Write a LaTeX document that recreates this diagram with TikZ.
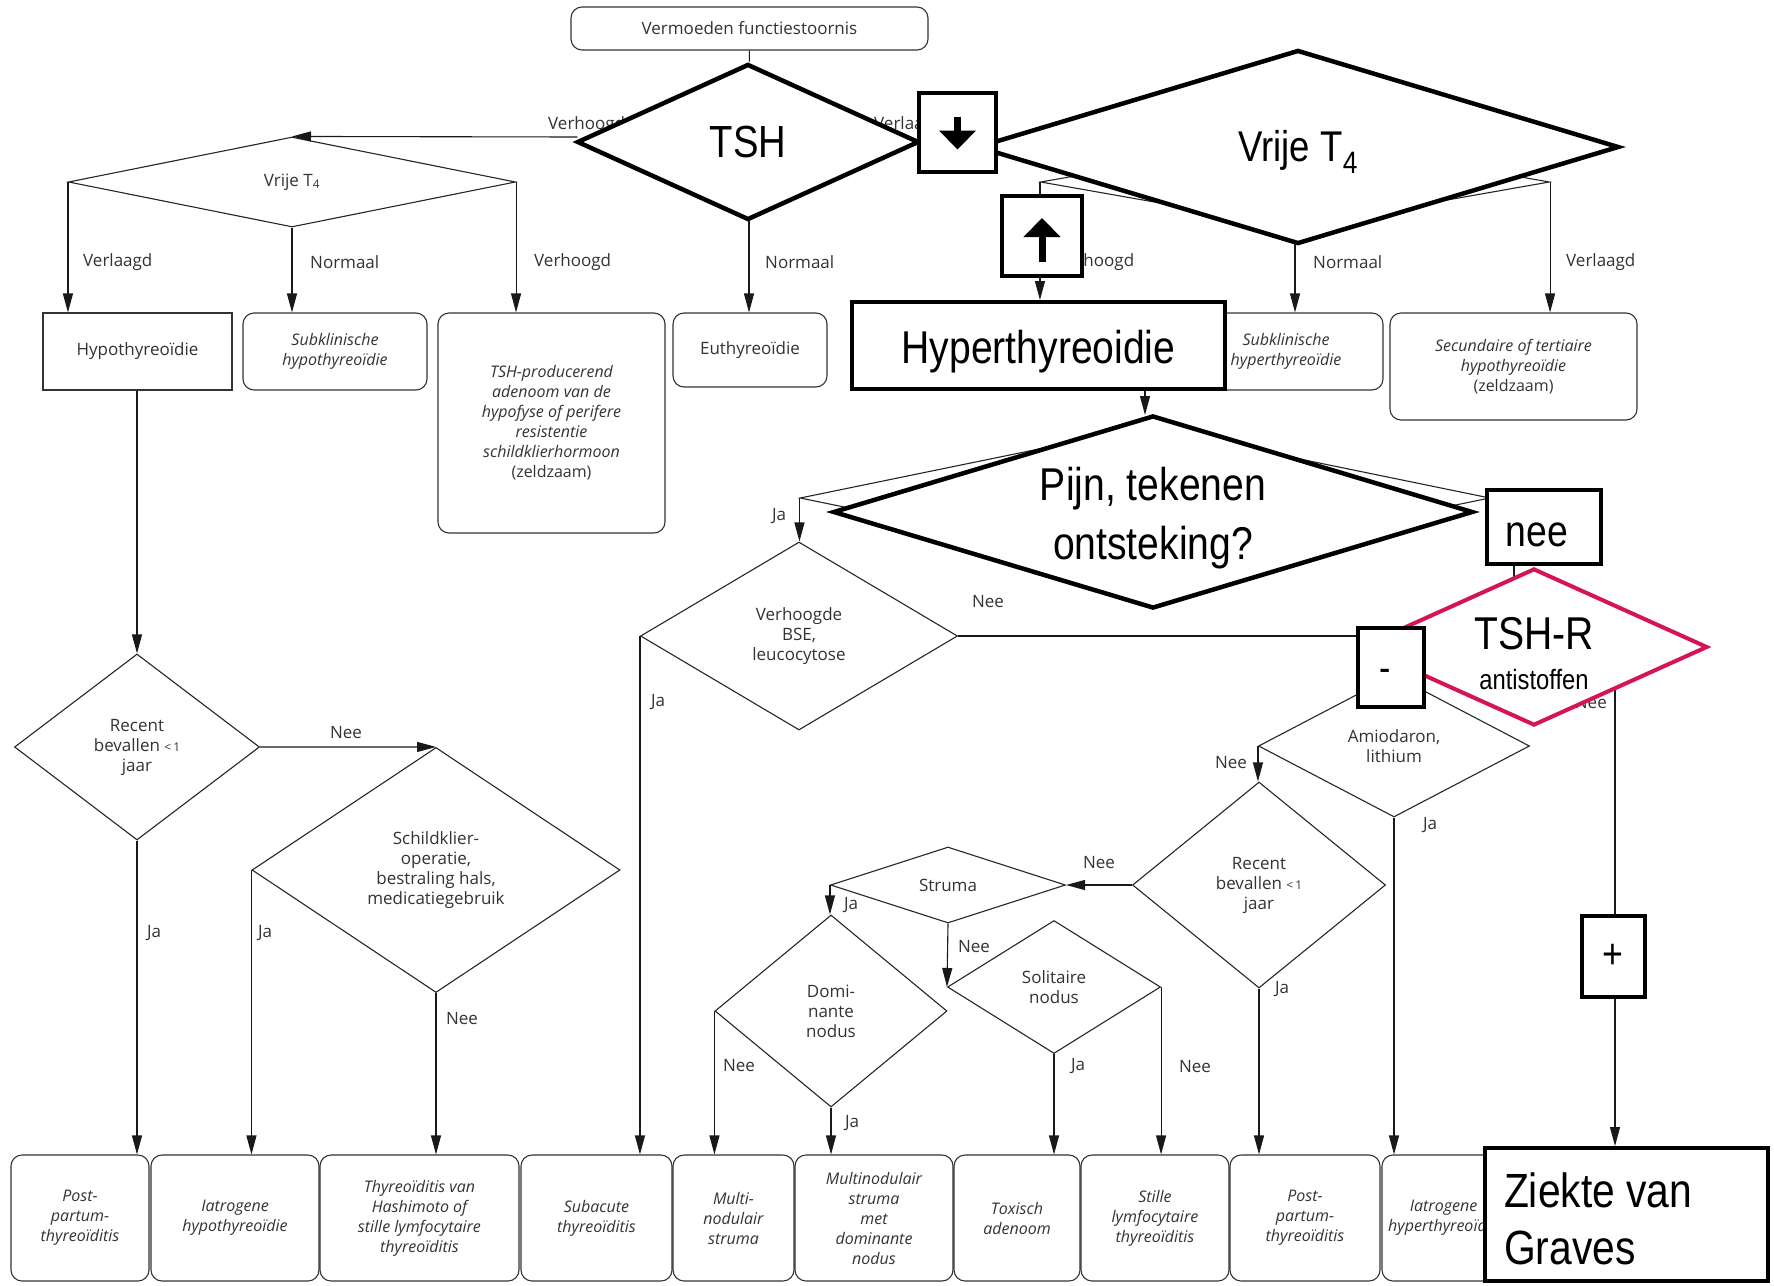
\documentclass[tikz,border=0pt]{standalone}
\usepackage{fontspec}
\usepackage{tikz}
\usetikzlibrary{calc,arrows.meta,shapes.geometric,positioning}
\newfontfamily\schemafont{Open Sans}
\newfontfamily\zwaarfont[FakeStretch=0.85]{Liberation Sans}
\definecolor{tshrood}{RGB}{214,20,82}
\newcommand\hoog[1]{\rule{0pt}{#1pt}}
\tikzset{
  lijn/.style={line width=1.1pt, draw=black!90},
  pijl/.style={lijn, -{Triangle[length=19pt,width=10pt]}},
  txt/.style={font=\schemafont\fontsize{17}{20}\selectfont, text=black!80, align=center, inner sep=0pt},
  vak/.style n args={2}{txt, draw=black!80, line width=1.1pt, rectangle, rounded corners=11pt, minimum width=#1, minimum height=#2},
  uitkomst/.style n args={2}{vak={#1}{#2}, font=\schemafont\itshape\fontsize{16}{20}\selectfont},
  keuze/.style n args={3}{txt, draw=black!85, line width=1.1pt, diamond, minimum width=#1, minimum height=#2, shape aspect=#3},
  zwaar/.style={draw=black, line width=4.5pt, fill=white, inner sep=0pt, align=center, font=\zwaarfont},
  zwaarvak/.style n args={2}{zwaar, rectangle, line width=4pt, minimum width=#1, minimum height=#2},
  zwaarkeuze/.style n args={3}{zwaar, diamond, minimum width=#1, minimum height=#2, shape aspect=#3},
  dikpijl/.style={line width=7pt, -{Triangle[length=19pt,width=36pt]}},
}
\begin{document}
\begin{tikzpicture}[x=1pt,y=-1pt]
\path[use as bounding box, fill=white] (0,0) rectangle (1774,1285);

% oorspronkelijk schema
\node[vak={357}{43}] (verm) at (749.5,28.5) {Vermoeden functiestoornis};
\node[keuze={342}{150}{2.28}, draw=none] (tsh) at (749,137) {};
\node[keuze={447}{90}{4.97}] (vt4l) at (292,182) {Vrije T\textsubscript{4}};
\node[keuze={509}{90}{5.66}] (vt4r) at (1295,182) {};
\node[vak={189}{77}, sharp corners] (hypo) at (137.5,351.5) {Hypothyreoïdie};
\node[uitkomst={184}{77}] (subhypo) at (335,351.5) {Subklinische\\hypothyreoïdie};
\node[uitkomst={227}{220}] (tshprod) at (551.5,423) {TSH-producerend\\adenoom van de\\hypofyse of perifere\\resistentie\\schildklierhormoon\\{\upshape (zeldzaam)}};
\node[vak={154}{74}] (euthy) at (750,350) {Euthyreoïdie};
\node[uitkomst={194}{77}] (subhyper) at (1286,351.5) {Subklinische\\hyperthyreoïdie};
\node[uitkomst={247}{107}] (secund) at (1513.5,366.5) {Secundaire of tertiaire\\hypothyreoïdie\\{\upshape (zeldzaam)}};
\node[keuze={690}{142}{4.86}] (pijn0) at (1145,498) {};
\node[keuze={317}{188}{1.69}] (bse) at (799,636) {Verhoogde\\BSE,\\leucocytose};
\node[keuze={271}{142}{1.91}] (amio) at (1394,746) {Amiodaron,\\lithium};
\node[keuze={253}{206}{1.23}] (rec2) at (1259,885) {Recent\\bevallen {\fontsize{12}{20}\selectfont <\,1}\\jaar};
\node[keuze={235}{76}{3.09}] (struma) at (948,885) {Struma};
\node[keuze={232}{192}{1.21}] (domi) at (831,1011) {Domi-\\nante\\nodus};
\node[keuze={213}{133}{1.60}] (soli) at (1054,987) {Solitaire\\nodus};
\node[keuze={245}{186}{1.32}] (rec1) at (137,747) {Recent\\bevallen {\fontsize{12}{20}\selectfont <\,1}\\jaar};
\node[keuze={368}{245}{1.50}] (schild) at (436,870) {Schildklier-\\operatie,\\bestraling hals,\\medicatiegebruik};
\coordinate (nee0) at (1514,590);
\coordinate (tshr0) at (1615,650);

% onderste rij
\node[uitkomst={138}{126}] (postp1) at (80,1218) {Post-\\partum-\\thyreoïditis};
\node[uitkomst={168}{126}] (iatrhypo) at (235,1218) {Iatrogene\\hypothyreoïdie};
\node[uitkomst={199}{126}] (hashi) at (419.5,1218) {Thyreoïditis van\\Hashimoto of\\stille lymfocytaire\\thyreoïditis};
\node[uitkomst={151}{126}] (subac) at (596.5,1218) {Subacute\\thyreoïditis};
\node[uitkomst={121}{126}] (multi) at (733.5,1218) {Multi-\\nodulair\\struma};
\node[uitkomst={158}{126}] (multidom) at (874,1218) {Multinodulair\\struma\\met\\dominante\\nodus};
\node[uitkomst={126}{126}] (toxi) at (1017,1218) {Toxisch\\adenoom};
\node[uitkomst={148}{126}] (stille) at (1155,1218) {Stille\\lymfocytaire\\thyreoïditis};
\node[uitkomst={150}{126}] (postp2) at (1305,1218) {Post-\\partum-\\thyreoïditis};
\node[uitkomst={123}{126}] (iatrhyper) at (1443.5,1218) {Iatrogene\\hyperthyreoïdie};

% bovenliggende vakken
\node[zwaarvak={373}{87}, font=\zwaarfont\fontsize{46}{55}\selectfont] (hyper) at (1038.5,345.5) {\hoog{45}Hyperthyreoidie};
\node[zwaarvak={283}{133}, font=\zwaarfont\fontsize{48}{57}\selectfont, align=left, text width=245pt] (graves) at (1626.5,1214.5) {\spaceskip=11pt\relax\hoog{43}Ziekte van\\Graves};

% verbindingen
\draw[lijn] (verm) -- (tsh);
\draw[pijl] (tsh.west) -- (vt4l.north);
\draw[pijl] (vt4l.west) -- (vt4l.west |- hypo.north);
\draw[pijl] (vt4l.south) -- (vt4l.south |- subhypo.north);
\draw[pijl] (vt4l.east) -- (vt4l.east |- tshprod.north);
\draw[pijl] (tsh.south) -- (tsh.south |- euthy.north);
\draw[pijl] (vt4r.west) -- (vt4r.west |- hyper.north);
\draw[pijl] (vt4r.south) -- (vt4r.south |- subhyper.north);
\draw[pijl] (vt4r.east) -- (vt4r.east |- secund.north);
\draw[pijl] (pijn0.north |- hyper.south) -- (pijn0.north |- 0,415);
\draw[pijl] (pijn0.west) -- (pijn0.west |- bse.north);
\draw[lijn] (pijn0.east) -| (nee0);
\draw[pijl] (bse.west) -- (bse.west |- subac.north);
\draw[pijl] (bse.east) -| (amio.north);
\draw[pijl] (amio.west) -- (amio.west |- rec2.north);
\draw[pijl] (amio.south) -- (amio.south |- iatrhyper.north);
\draw[pijl] (rec2.west) -- (struma.east);
\draw[pijl] (rec2.south) -- (rec2.south |- postp2.north);
\draw[pijl] (struma.west) -- (struma.west |- domi.north);
\draw[pijl] (struma.south) -- (soli.west);
\draw[pijl] (domi.west) -- (domi.west |- multi.north);
\draw[pijl] (domi.south) -- (domi.south |- multidom.north);
\draw[pijl] (soli.south) -- (soli.south |- toxi.north);
\draw[pijl] (soli.east) -- (soli.east |- stille.north);
\draw[pijl] (hypo.south -| rec1.north) -- (rec1.north);
\draw[pijl] (rec1.east) -- (schild.north);
\draw[pijl] (rec1.south) -- (rec1.south |- postp1.north);
\draw[pijl] (schild.west) -- (schild.west |- iatrhypo.north);
\draw[pijl] (schild.south) -- (schild.south |- hashi.north);
\draw[pijl] (tshr0) -- (tshr0 |- graves.north);

% labels
\node[txt, anchor=west] (lvh0) at (548,125) {Verhoogd};
\node[txt, anchor=west] (lvl0) at (874,125) {Verlaagd};
\node[txt, anchor=west] (lvl1) at (83,262) {Verlaagd};
\node[txt, anchor=west] (lno1) at (310,262) {Normaal};
\node[txt, anchor=west] (lvh1) at (534,262) {Verhoogd};
\node[txt, anchor=west] (lno0) at (765,262) {Normaal};
\node[txt, anchor=west] (lvh2) at (1057,262) {Verhoogd};
\node[txt, anchor=west] (lno2) at (1313,262) {Normaal};
\node[txt, anchor=west] (lvl2) at (1566,262) {Verlaagd};
\node[txt] (lja1) at (779,516) {Ja};
\node[txt] (lja2) at (658,702) {Ja};
\node[txt] (lnee1) at (988,602) {Nee};
\node[txt] (lnee2) at (1231,763) {Nee};
\node[txt] (lja3) at (1430,825) {Ja};
\node[txt] (lnee3) at (1099,863) {Nee};
\node[txt] (lja4) at (1282,989) {Ja};
\node[txt] (lja5) at (851,905) {Ja};
\node[txt] (lnee4) at (974,947) {Nee};
\node[txt] (lnee5) at (739,1065) {Nee};
\node[txt] (lja6) at (852,1123) {Ja};
\node[txt] (lja7) at (1078,1066) {Ja};
\node[txt] (lnee6) at (1195,1066) {Nee};
\node[txt] (lnee7) at (346,733) {Nee};
\node[txt] (lja8) at (154,933) {Ja};
\node[txt] (lja9) at (265,933) {Ja};
\node[txt] (lnee8) at (462,1018) {Nee};
\node[txt, anchor=east] (lnee9) at (1607,703) {Nee};

% zware bovenlaag
\node[zwaarkeuze={342}{156}{2.19}, font=\zwaarfont\fontsize{45}{54}\selectfont] (tshbig) at (748,142) {TSH};
\node[zwaarkeuze={642}{194}{3.31}, font=\zwaarfont\fontsize{43}{52}\selectfont] (vt4big) at (1298,147) {\hoog{40}Vrije T\raisebox{-12pt}{\fontsize{31}{31}\selectfont 4}};
\node[zwaarkeuze={640}{193}{3.32}, font=\zwaarfont\fontsize{46}{59}\selectfont] (pijn) at (1153,512) {\hoog{46}Pijn, tekenen\\ontsteking?};
\node[zwaarvak={114}{74}, font=\zwaarfont\fontsize{44}{50}\selectfont] (neebox) at (1544,527) {\hoog{40}nee\hspace*{14pt}};
\node[zwaarkeuze={347}{157}{2.21}, draw=tshrood, line width=4pt, font=\zwaarfont\fontsize{46}{40}\selectfont] (tshr) at (1534,647) {\hoog{45}TSH-R\\{\fontsize{28}{40}\selectfont antistoffen}};
\node[zwaarvak={77}{79}] (dnbox) at (957.5,132.5) {};
\node[zwaarvak={80}{80}] (upbox) at (1042,236) {};
\node[zwaarvak={66}{79}, font=\zwaarfont\fontsize{40}{48}\selectfont] (minbox) at (1391,667) {\rule[6pt]{0pt}{22pt}-\hspace*{12pt}};
\node[zwaarvak={63}{81}, font=\zwaarfont\fontsize{42}{50}\selectfont] (plusbox) at (1613,956.5) {+};
\draw[dikpijl] ($(dnbox.center)+(0,-16)$) -- ($(dnbox.center)+(0,17)$);
\draw[dikpijl] ($(upbox.center)+(0,26)$) -- ($(upbox.center)+(0,-18)$);
\end{tikzpicture}
\end{document}
